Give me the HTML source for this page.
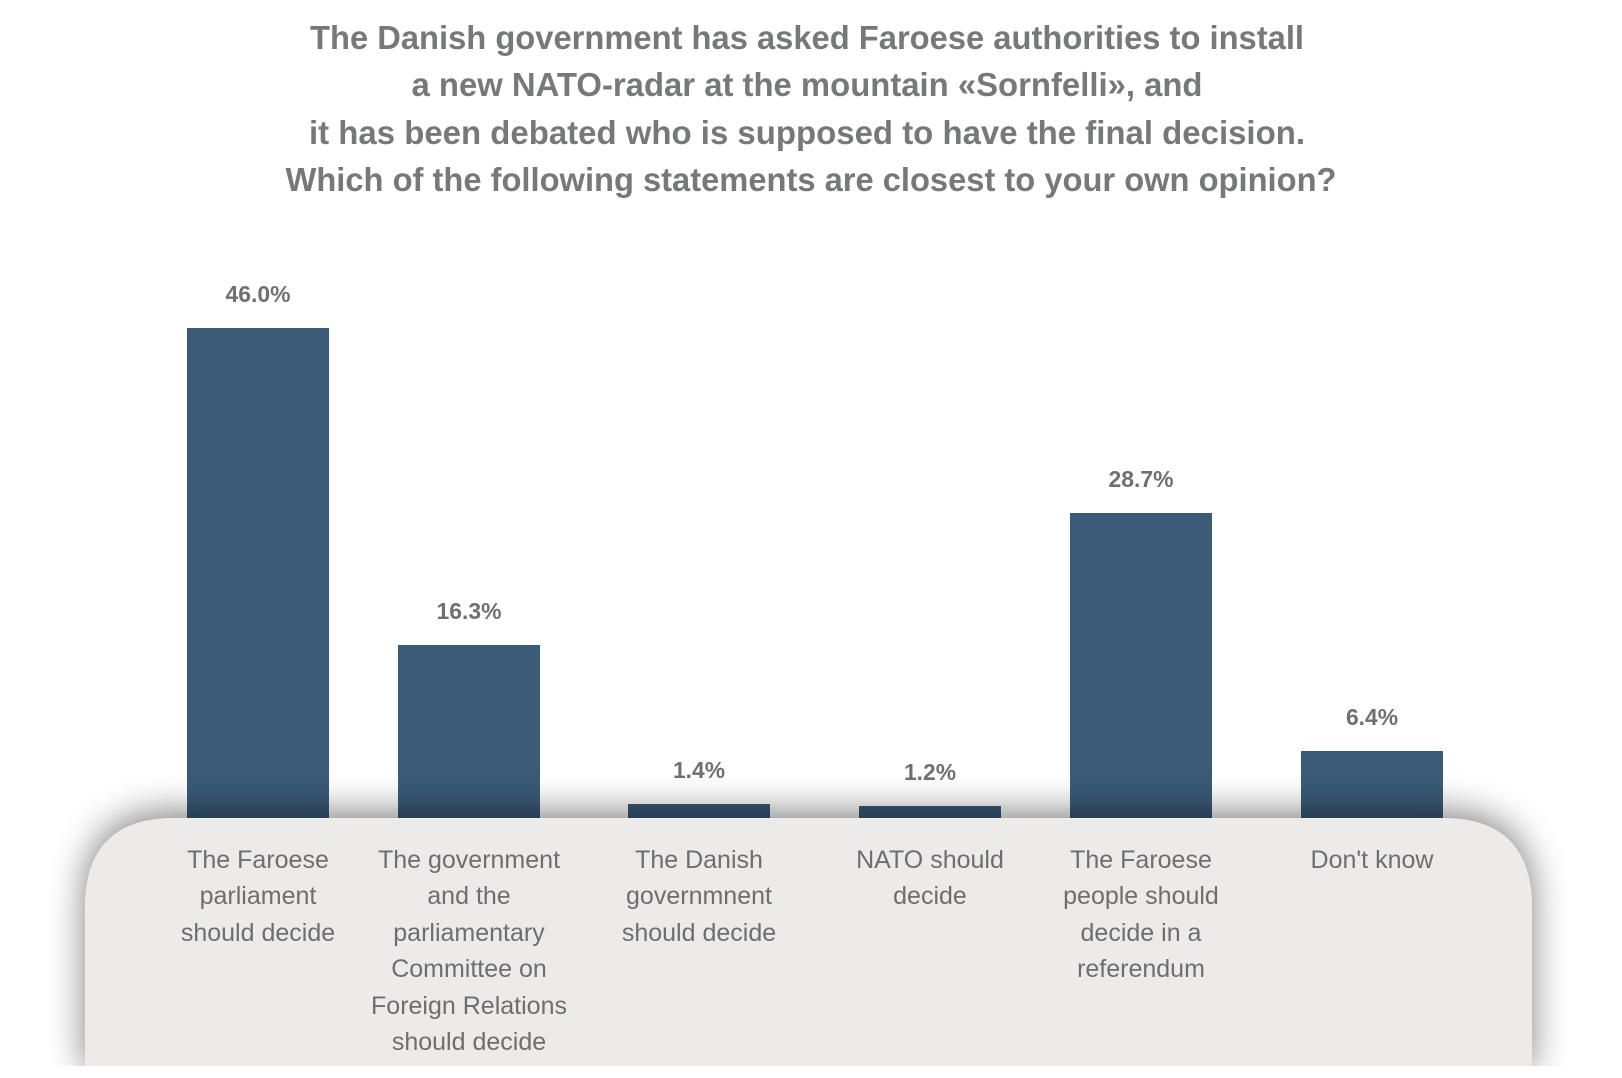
<!DOCTYPE html>
<html><head><meta charset="utf-8"><style>
html,body{margin:0;padding:0;background:#fff;}
svg{display:block;}
</style></head><body>
<svg width="1622" height="1078" viewBox="0 0 1622 1078" xmlns="http://www.w3.org/2000/svg">
<defs>
<filter id="sh" x="-10%" y="-40%" width="120%" height="160%">
<feGaussianBlur in="SourceAlpha" stdDeviation="18"/>
<feOffset dx="0" dy="-6"/>
<feComponentTransfer><feFuncA type="linear" slope="0.5"/></feComponentTransfer>
<feMerge><feMergeNode/><feMergeNode in="SourceGraphic"/></feMerge>
</filter>
</defs>
<g font-family="Liberation Sans, sans-serif" font-weight="bold" fill="#77787b" font-size="33" text-anchor="middle">
<text x="807" y="49" textLength="994" lengthAdjust="spacingAndGlyphs">The Danish government has asked Faroese authorities to install</text>
<text x="807" y="96" textLength="791" lengthAdjust="spacingAndGlyphs">a new NATO-radar at the mountain «Sornfelli», and</text>
<text x="807" y="144" textLength="996" lengthAdjust="spacingAndGlyphs">it has been debated who is supposed to have the final decision.</text>
<text x="811" y="191" textLength="1051" lengthAdjust="spacingAndGlyphs">Which of the following statements are closest to your own opinion?</text>
</g>
<g fill="#3a5a78">
<rect x="187" y="328" width="142" height="500"/>
<rect x="398" y="645" width="142" height="180"/>
<rect x="628" y="804" width="142" height="30"/>
<rect x="859" y="806" width="142" height="30"/>
<rect x="1070" y="513" width="142" height="320"/>
<rect x="1301" y="751" width="142" height="80"/>
</g>
<g font-family="Liberation Sans, sans-serif" font-weight="bold" fill="#6f7073" font-size="23" text-anchor="middle">
<text x="258" y="302" textLength="65" lengthAdjust="spacingAndGlyphs">46.0%</text>
<text x="469" y="619" textLength="65" lengthAdjust="spacingAndGlyphs">16.3%</text>
<text x="699" y="778" textLength="52" lengthAdjust="spacingAndGlyphs">1.4%</text>
<text x="930" y="780" textLength="52" lengthAdjust="spacingAndGlyphs">1.2%</text>
<text x="1141" y="487" textLength="65" lengthAdjust="spacingAndGlyphs">28.7%</text>
<text x="1372" y="725" textLength="52" lengthAdjust="spacingAndGlyphs">6.4%</text>
</g>
<path filter="url(#sh)" fill="#ecebea" d="M85,1075 L85,908 Q85,818 175,818 L1442,818 Q1532,818 1532,908 L1532,1075 Z"/>
<g font-family="Liberation Sans, sans-serif" fill="#6c6e71" font-size="25" text-anchor="middle">
<text x="258" y="868">The Faroese</text>
<text x="258" y="904">parliament</text>
<text x="258" y="941">should decide</text>
<text x="469" y="868">The government</text>
<text x="469" y="904">and the</text>
<text x="469" y="941">parliamentary</text>
<text x="469" y="977">Committee on</text>
<text x="469" y="1014">Foreign Relations</text>
<text x="469" y="1050">should decide</text>
<text x="699" y="868">The Danish</text>
<text x="699" y="904">governmnent</text>
<text x="699" y="941">should decide</text>
<text x="930" y="868">NATO should</text>
<text x="930" y="904">decide</text>
<text x="1141" y="868">The Faroese</text>
<text x="1141" y="904">people should</text>
<text x="1141" y="941">decide in a</text>
<text x="1141" y="977">referendum</text>
<text x="1372" y="868">Don't know</text>
</g>
<rect x="0" y="1066" width="1622" height="12" fill="#fff"/>
</svg>
</body></html>
